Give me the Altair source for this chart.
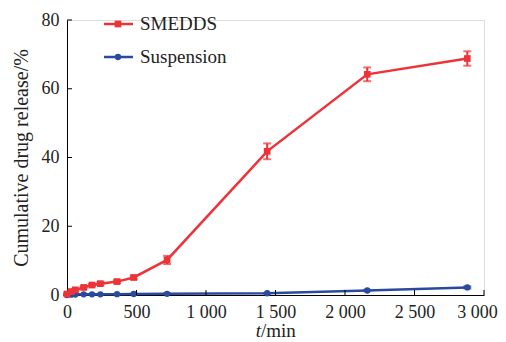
import altair as alt
import pandas as pd

times = [0, 30, 60, 120, 180, 240, 360, 480, 720, 1440, 2160, 2880]
smedds = [0.3, 1.0, 1.5, 2.2, 2.9, 3.3, 3.9, 5.1, 10.2, 41.8, 64.2, 68.8]
smedds_err = [0.2, 0.3, 0.3, 0.3, 0.3, 0.4, 0.4, 0.5, 1.2, 2.3, 2.0, 2.1]
susp = [0.0, 0.1, 0.15, 0.2, 0.2, 0.2, 0.25, 0.3, 0.35, 0.5, 1.3, 2.2]
susp_err = [0.05, 0.05, 0.05, 0.05, 0.05, 0.05, 0.05, 0.05, 0.1, 0.1, 0.2, 0.3]
x_ticks = [0, 500, 1000, 1500, 2000, 2500, 3000]
y_ticks = [0, 20, 40, 60, 80]
series = ["SMEDDS", "Suspension"]

RED = "#EE3338"
BLUE = "#2A4A9E"
FONT = "Liberation Serif"
W, H = 417, 275

df_s = pd.DataFrame({"t": times, "v": smedds, "lo": [a - b for a, b in zip(smedds, smedds_err)],
                     "hi": [a + b for a, b in zip(smedds, smedds_err)]})
df_p = pd.DataFrame({"t": times, "v": susp, "lo": [a - b for a, b in zip(susp, susp_err)],
                     "hi": [a + b for a, b in zip(susp, susp_err)]})

xs = alt.Scale(domain=[0, 3000], nice=False)
ys = alt.Scale(domain=[0, 80], nice=False)

xaxis = alt.Axis(values=x_ticks, ticks=False, grid=False, labelPadding=8, labelFlush=False,
                 labelFont=FONT, labelFontSize=18, labelColor="#222",
                 labelOffset={"condition": {"test": "datum.value == 3000", "value": -7}, "value": 0},
                 domainColor="black", domainWidth=1,
                 labelExpr="replace(format(datum.value, ','), ',', ' ')", title=None)
yaxis = alt.Axis(values=y_ticks, ticks=False, grid=False, labelPadding=8, labelFlush=False,
                 labelFont=FONT, labelFontSize=18, labelColor="#222",
                 domainColor="black", domainWidth=1,
                 title="Cumulative drug release/%", titlePadding=10,
                 titleFont=FONT, titleFontSize=20, titleFontWeight="normal", titleColor="#222")


def X(f="t"):
    return alt.X(f + ":Q", scale=xs, axis=xaxis)


def Y(f="v"):
    return alt.Y(f + ":Q", scale=ys, axis=yaxis)


def series_layers(df, color, shape, size):
    base = alt.Chart(df)
    line = base.mark_line(color=color, strokeWidth=2.5).encode(x=X(), y=Y())
    pts = base.mark_point(color=color, shape=shape, filled=True, opacity=1, size=size).encode(x=X(), y=Y())
    rule = base.mark_rule(color=color, strokeWidth=2).encode(x=X(), y=Y("lo"), y2="hi:Q")
    cap_lo = base.mark_tick(color=color, orient="horizontal", size=8, thickness=2).encode(x=X(), y=Y("lo"))
    cap_hi = base.mark_tick(color=color, orient="horizontal", size=8, thickness=2).encode(x=X(), y=Y("hi"))
    return [line, rule, cap_lo, cap_hi, pts]


layers = series_layers(df_p, BLUE, "circle", 40) + series_layers(df_s, RED, "square", 45)

# inside ticks
tx = pd.DataFrame({"t": x_ticks[1:]})
ty = pd.DataFrame({"v": y_ticks[1:]})
xt = alt.Chart(tx).mark_rule(color="black", strokeWidth=1).encode(
    x=X(), y=alt.value(H), y2=alt.value(H - 5))
yt = alt.Chart(ty).mark_rule(color="black", strokeWidth=1).encode(
    y=Y(), x=alt.value(0), x2=alt.value(5))

# legend
leg = []
for i, (name, color, shape, size) in enumerate([(series[0], RED, "square", 45), (series[1], BLUE, "circle", 40)]):
    yy = 4 + i * 33
    d = pd.DataFrame({"name": [name]})
    leg.append(alt.Chart(d).mark_rule(color=color, strokeWidth=2.5).encode(
        x=alt.value(37), x2=alt.value(66), y=alt.value(yy)))
    leg.append(alt.Chart(d).mark_point(color=color, shape=shape, filled=True, opacity=1, size=size).encode(
        x=alt.value(51), y=alt.value(yy)))
    leg.append(alt.Chart(d).mark_text(font=FONT, fontSize=19, color="#222", align="left", baseline="middle").encode(
        x=alt.value(73), y=alt.value(yy), text="name:N"))

# x title with italic t
tt = pd.DataFrame({"a": ["t"], "b": ["/min"]})
xt1 = alt.Chart(tt).mark_text(font=FONT, fontSize=19, fontStyle="italic", color="#222", align="right",
                              baseline="alphabetic").encode(x=alt.value(194), y=alt.value(H + 42), text="a:N")
xt2 = alt.Chart(tt).mark_text(font=FONT, fontSize=19, color="#222", align="left",
                              baseline="alphabetic").encode(x=alt.value(194), y=alt.value(H + 42), text="b:N")

chart = alt.layer(*layers, xt, yt, *leg, xt1, xt2).properties(
    width=W, height=H,
    autosize=alt.AutoSizeParams(type="none"),
    padding={"left": 59, "top": 12, "right": 14, "bottom": 47},
).configure_view(stroke=None).configure(background="white")

chart.save("out.html", embed_options={"renderer": "svg", "actions": False})
